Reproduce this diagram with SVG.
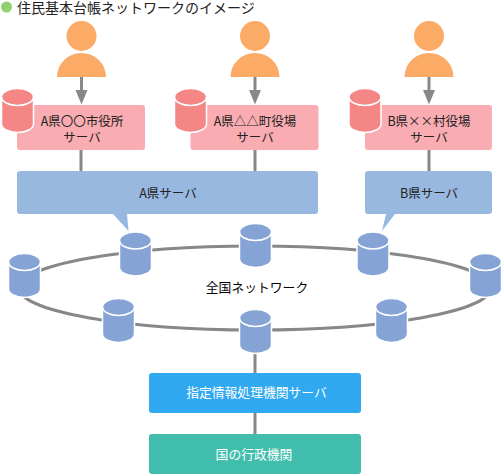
<svg xmlns="http://www.w3.org/2000/svg" width="501" height="475" viewBox="0 0 501 475">
<style>
text{font-family:"Noto Sans CJK JP","Noto Sans",sans-serif;text-anchor:middle;fill:#222}
.t{font-size:12.5px}
.w{font-size:12.800px;fill:#fff}
.person{fill:#fbab66}
.pink{fill:#f9acb1}
.blue{fill:#99b8e0}
.link{stroke:#888;stroke-width:3;fill:none}
.cb{fill:#85a3d4}
.cp{fill:#f48686}
.cs{stroke:#fff;stroke-width:1.5}
.cl{fill:none;stroke:#fff;stroke-width:1.5}
</style>
<defs>
<g id="cyl"><path class="cs" d="M-16 8V35A16 8.5 0 0 0 16 35V8A16 8.500 0 0 0-16 8Z"/><path class="cl" d="M-16 8A16 8.500 0 0 0 16 8"/></g>
<g id="person"><circle class="person" cy="36" r="15"/><path class="person" d="M-24.500 77A24.500 24 0 0 1 24.500 77Z"/><path class="link" d="M0 77V92"/><path fill="#888" d="M-6 90H6L0 104.500Z"/></g>
</defs>
<g id="title"><circle cx="6.500" cy="7" r="5.500" fill="#90d070"/><text x="17" y="13" font-size="14" style="text-anchor:start">住民基本台帳ネットワークのイメージ</text></g>
<g id="connectors">
<ellipse class="link" cx="255" cy="288" rx="236" ry="42"/>
<path class="link" d="M81 150V171M255 150V171M429 150V171M255 350V373M255 413V434"/>
</g>
<g id="person-a"><use href="#person" x="81.500"/></g>
<g id="person-b"><use href="#person" x="255"/></g>
<g id="person-c"><use href="#person" x="429"/></g>
<g id="server-a"><rect class="pink" x="17" y="105" width="128" height="45" rx="3"/><use href="#cyl" x="17.500" y="89" class="cp"/><text class="t" x="82" y="126">A県〇〇市役所</text><text class="t" x="82" y="142">サーバ</text></g>
<g id="server-b"><rect class="pink" x="190.500" y="105" width="128" height="45" rx="3"/><use href="#cyl" x="190.500" y="89" class="cp"/><text class="t" x="255" y="126">A県△△町役場</text><text class="t" x="255" y="142">サーバ</text></g>
<g id="server-c"><rect class="pink" x="365" y="105" width="127" height="45" rx="3"/><use href="#cyl" x="365" y="89" class="cp"/><text class="t" x="429" y="126">B県××村役場</text><text class="t" x="429" y="142">サーバ</text></g>
<g id="pref-a"><path class="blue" d="M20 171H315a3 3 0 0 1 3 3V211a3 3 0 0 1-3 3H127L128.500 231L113 214H20a3 3 0 0 1-3-3V174a3 3 0 0 1 3-3Z"/><text class="t" x="168" y="198">A県サーバ</text></g>
<g id="pref-b"><path class="blue" d="M368 171H489a3 3 0 0 1 3 3V211a3 3 0 0 1-3 3H395L382 231L386 214H368a3 3 0 0 1-3-3V174a3 3 0 0 1 3-3Z"/><text class="t" x="429" y="198">B県サーバ</text></g>
<g id="net-1" class="cb"><use href="#cyl" x="135.500" y="232.500"/></g>
<g id="net-2" class="cb"><use href="#cyl" x="255.500" y="224"/></g>
<g id="net-3" class="cb"><use href="#cyl" x="373" y="232.500"/></g>
<g id="net-4" class="cb"><use href="#cyl" x="24.500" y="254"/></g>
<g id="net-5" class="cb"><use href="#cyl" x="485.500" y="254"/></g>
<g id="net-6" class="cb"><use href="#cyl" x="118.500" y="299"/></g>
<g id="net-7" class="cb"><use href="#cyl" x="391.500" y="299"/></g>
<g id="net-8" class="cb"><use href="#cyl" x="255.500" y="310"/></g>
<g id="net-label"><text x="257" y="292" font-size="12.800" style="fill:#000">全国ネットワーク</text></g>
<g id="designated"><rect x="149" y="373" width="212" height="40" rx="3" fill="#31a9f0"/><text class="w" x="256.500" y="397">指定情報処理機関サーバ</text></g>
<g id="gov"><rect x="149" y="434" width="212" height="40" rx="3" fill="#40bdac"/><text class="w" x="254" y="459">国の行政機関</text></g>
</svg>
